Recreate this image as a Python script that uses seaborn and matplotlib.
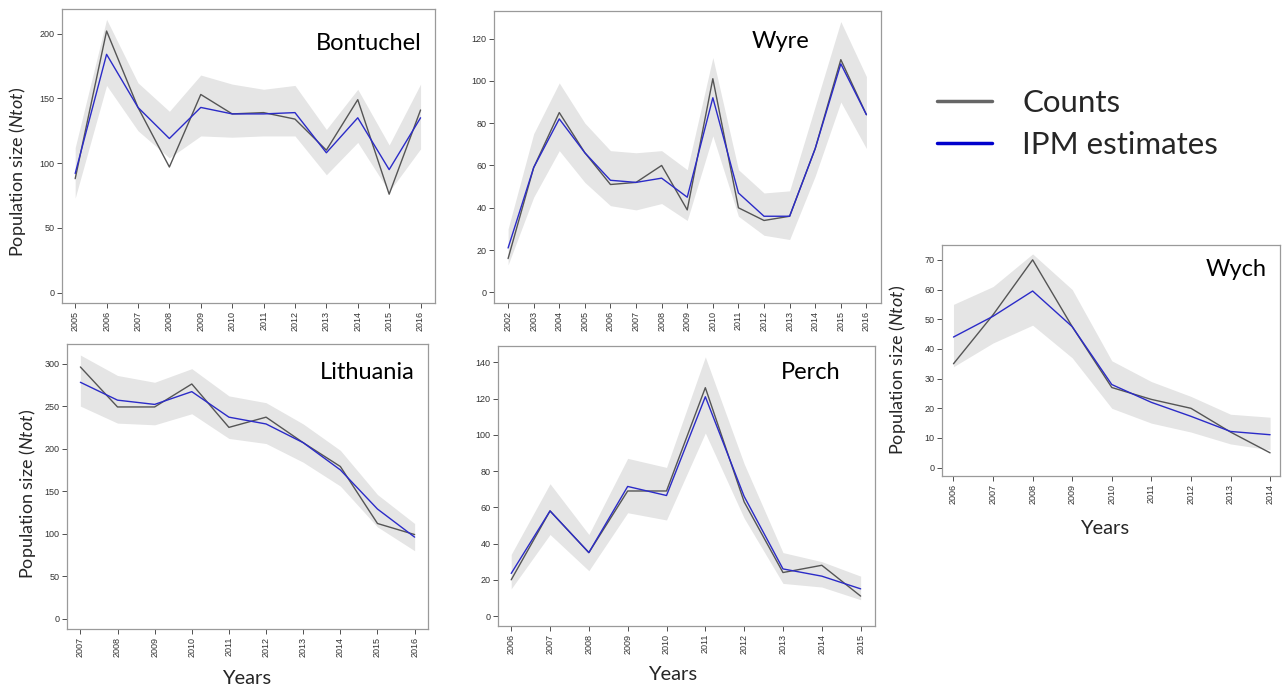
import seaborn as sns
import matplotlib.pyplot as plt
from matplotlib.lines import Line2D

# --- data ---
bont_years = list(range(2005, 2017))
bont_counts = [88, 202, 143, 97, 153, 138, 139, 134, 110, 149, 76, 141]
bont_ipm = [92, 184, 143, 119, 143, 138, 138, 139, 108, 135, 95, 135]
bont_hi = [112, 211, 162, 140, 168, 161, 157, 160, 126, 157, 114, 161]
bont_lo = [73, 160, 125, 104, 121, 120, 121, 121, 91, 116, 78, 111]

wyre_years = list(range(2002, 2017))
wyre_counts = [16, 59, 85, 66, 51, 52, 60, 39, 101, 40, 34, 36, 68, 110, 84]
wyre_ipm = [21, 59, 82, 66, 53, 52, 54, 45, 92, 47, 36, 36, 68, 108, 84]
wyre_hi = [30, 75, 99, 80, 67, 66, 67, 58, 111, 58, 47, 48, 88, 128, 102]
wyre_lo = [13, 45, 67, 52, 41, 39, 42, 34, 74, 36, 27, 25, 55, 90, 68]

lith_years = list(range(2007, 2017))
lith_counts = [296, 249, 249, 276, 225, 237, 207, 179, 112, 99]
lith_ipm = [278, 257, 252, 267, 237, 229, 207, 175, 129, 96]
lith_hi = [310, 286, 278, 294, 262, 254, 229, 198, 146, 112]
lith_lo = [250, 230, 228, 241, 212, 206, 184, 156, 108, 80]

perch_years = list(range(2006, 2016))
perch_counts = [20, 58, 35, 69, 69, 126, 63, 24, 28, 11]
perch_ipm = [23.5, 58, 35, 71.5, 66.5, 121, 66, 26, 22, 15]
perch_hi = [34, 73, 45, 87, 82, 143, 84, 35, 30, 22]
perch_lo = [15, 45, 25, 57, 53, 101, 54, 18, 16, 9]

wych_years = list(range(2006, 2015))
wych_counts = [35, 51.5, 70, 47.5, 27, 23, 20, 12, 5]
wych_ipm = [44, 51, 59.5, 47.5, 28, 22, 17.3, 12.2, 11.1]
wych_hi = [55, 61, 72, 60, 36, 29, 24, 18, 17]
wych_lo = [34, 42, 48, 37, 20, 15, 12, 8, 6]

sns.set_theme(style="white")
plt.rcParams['font.family'] = ['Lato', 'DejaVu Sans']
plt.rcParams['mathtext.fontset'] = 'custom'
plt.rcParams['mathtext.rm'] = 'Lato'
plt.rcParams['mathtext.it'] = 'Lato:italic'

COUNT_COL = '#555555'
IPM_COL = '#2b2bc8'
BAND_COL = '#e5e5e5'

fig = plt.figure(figsize=(12.83, 6.90), dpi=100)


def panel(rect, name, years, counts, ipm, hi, lo, ylim, yticks, pad, name_xy, name_ha):
    ax = fig.add_axes(rect)
    ax.fill_between(years, lo, hi, color=BAND_COL, lw=0)
    sns.lineplot(x=years, y=counts, color=COUNT_COL, lw=1.0, ax=ax)
    sns.lineplot(x=years, y=ipm, color=IPM_COL, lw=1.0, ax=ax)
    ax.set_xlim(years[0] - pad[0], years[-1] + pad[1])
    ax.set_ylim(*ylim)
    ax.set_xticks(years)
    ax.set_xticklabels([str(y) for y in years], rotation=90, family='Liberation Sans')
    ax.set_yticks(yticks)
    ax.set_yticklabels([str(t) for t in yticks], family='Liberation Sans')
    ax.tick_params(axis='both', labelsize=6.5, colors='#333333', length=3.5,
                   width=0.6, direction='out', bottom=True, left=True, pad=2)
    for s in ax.spines.values():
        s.set_color('#9a9a9a')
        s.set_linewidth(0.9)
    ax.text(name_xy[0], name_xy[1], name, transform=ax.transAxes,
            ha=name_ha, va='center', fontsize=17, color='black')
    return ax


W, H = 1283.0, 690.0


def rect(x0, y0, x1, y1):
    return [x0 / W, 1 - y1 / H, (x1 - x0) / W, (y1 - y0) / H]


panel(rect(62, 9, 435, 303), 'Bontuchel', bont_years, bont_counts, bont_ipm,
      bont_hi, bont_lo, (-8, 219), [0, 50, 100, 150, 200], (0.42, 0.46),
      (0.964, 0.884), 'right')
panel(rect(494, 11, 881, 303), 'Wyre', wyre_years, wyre_counts, wyre_ipm,
      wyre_hi, wyre_lo, (-5, 133), [0, 20, 40, 60, 80, 100, 120], (0.55, 0.57),
      (0.74, 0.894), 'center')
panel(rect(67, 344, 428, 629), 'Lithuania', lith_years, lith_counts, lith_ipm,
      lith_hi, lith_lo, (-12, 323), [0, 50, 100, 150, 200, 250, 300], (0.36, 0.36),
      (0.964, 0.90), 'right')
panel(rect(498, 346, 875, 626), 'Perch', perch_years, perch_counts, perch_ipm,
      perch_hi, perch_lo, (-5.5, 149), [0, 20, 40, 60, 80, 100, 120, 140], (0.34, 0.37),
      (0.83, 0.907), 'center')
panel(rect(942, 245, 1280, 476), 'Wych', wych_years, wych_counts, wych_ipm,
      wych_hi, wych_lo, (-2.8, 75), [0, 10, 20, 30, 40, 50, 60, 70], (0.29, 0.25),
      (0.87, 0.896), 'center')

ylab = r'Population size ($\mathit{Ntot}$)'
for x, y in [(18, 172), (28, 494), (898, 370)]:
    fig.text(x / W, 1 - y / H, ylab, rotation=90, ha='center', va='center', fontsize=13)
for x, y in [(247, 678), (673, 675), (1105, 528)]:
    fig.text(x / W, 1 - y / H, 'Years', ha='center', va='center', fontsize=14.5)

# legend drawn at figure level
handles = [Line2D([], [], color='#666666', lw=2.5),
           Line2D([], [], color='#0000cc', lw=2.5)]
fig.legend(handles, ['Counts', 'IPM estimates'], loc='center left',
           bbox_to_anchor=(937 / W, 1 - 124 / H), frameon=False, fontsize=22.5,
           handlelength=1.77, handletextpad=0.95, labelspacing=0.45,
           borderpad=0, borderaxespad=0)

plt.savefig('out.png', dpi=100)
